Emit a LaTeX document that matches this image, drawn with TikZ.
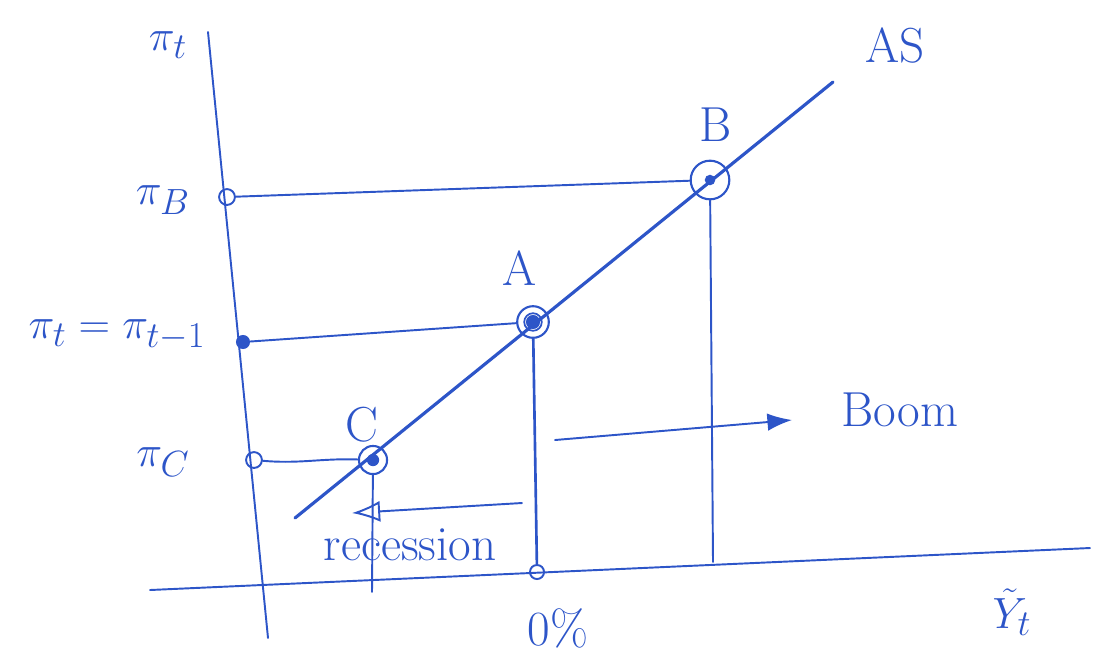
\documentclass[tikz,border=0pt]{standalone}
\usetikzlibrary{arrows.meta}
\definecolor{pen}{RGB}{45,85,200}
\begin{document}
\begin{tikzpicture}[x=0.02cm,y=-0.02cm,
  ln/.style={draw=pen,line width=1.1pt,line cap=round},
  lbl/.style={text=pen,font=\fontsize{28}{32}\selectfont,inner sep=0pt},
  pt/.style={circle,draw=pen,line width=1.2pt,minimum size=#1,inner sep=0pt},
  dotm/.style={circle,draw=pen,line width=1.1pt,minimum size=9pt,inner sep=0pt}]
\useasboundingbox (0,0) rectangle (1097,664);
% axes
\coordinate (ytop) at (208,32);
\coordinate (ybot) at (268,638);
\coordinate (xl) at (150,590);
\coordinate (xr) at (1090,548);
\draw[ln] (ytop) -- (ybot);
\draw[ln] (xl) -- (xr);
% AS line
\coordinate (as1) at (295,518);
\coordinate (as2) at (833,82);
\draw[ln,line width=1.8pt] (as1) -- (as2);
% points
\node[pt=22pt] (B) at (710,180) {};
\node[pt=18pt] (A) at (533,322) {};
\node[pt=10pt,line width=1pt] (A2) at (533,322) {};
\node[pt=16pt] (C) at (373,460) {};
\fill[pen] (A) circle (4pt);
\fill[pen] (C) circle (3.5pt);
\fill[pen] (B) circle (3pt);
% axis marks
\node[dotm] (pB) at (227,197) {};
\node[circle,fill=pen,minimum size=8pt,inner sep=0pt] (pA) at (243,342) {};
\node[dotm] (pC) at (254,460) {};
\node[dotm,minimum size=8pt] (z) at (537,572) {};
% guides
\draw[ln] (pB) -- (B);
\draw[ln] (pA) -- (A);
\draw[ln] (pC) to[out=-5,in=178] (C);
\coordinate (bB) at (713,562);
\coordinate (bC) at (372,592);
\draw[ln] (B) -- (bB);
\draw[ln,line width=1.5pt] (A) -- (z);
\draw[ln] (C) -- (bC);
% arrows
\coordinate (boom0) at (555,440);
\coordinate (boom1) at (792,420);
\draw[ln,-{Latex[length=14pt,width=10pt]}] (boom0) -- (boom1);
\coordinate (rec0) at (522,503);
\coordinate (rec1) at (352,513);
\draw[ln,-{Latex[length=16pt,width=12pt,open]}] (rec0) -- (rec1);
% labels
\node[lbl] (lpi) at (168,45) {$\pi_t$};
\node[lbl] (las) at (895,45) {AS};
\node[lbl] (lB) at (716,125) {B};
\node[lbl] (lA) at (520,268) {A};
\node[lbl] (lC) at (362,425) {C};
\node[lbl] (lpB) at (163,200) {$\pi_B$};
\node[lbl] (lpA) at (117,335) {$\pi_t = \pi_{t-1}$};
\node[lbl] (lpC) at (163,462) {$\pi_C$};
\node[lbl] (l0) at (558,628) {0\%};
\node[lbl] (lY) at (1012,612) {$\tilde{Y}_t$};
\node[lbl] (lboom) at (900,410) {Boom};
\node[lbl] (lrec) at (410,545) {recession};
\end{tikzpicture}
\end{document}
